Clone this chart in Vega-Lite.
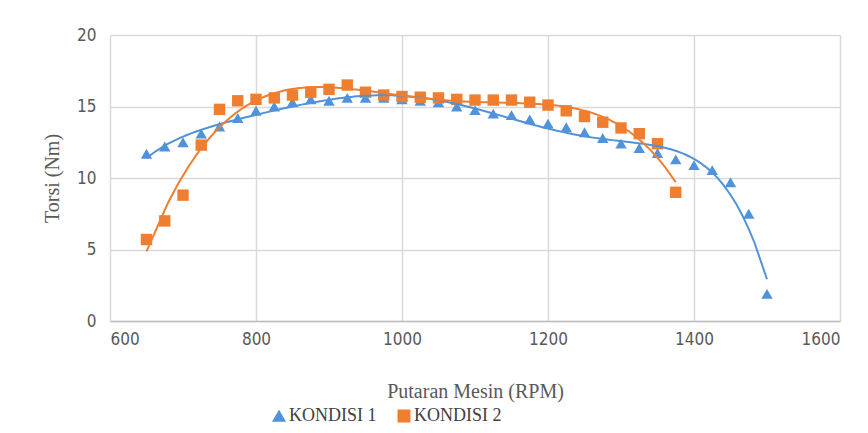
{
  "$schema": "https://vega.github.io/schema/vega-lite/v6.json",
  "width": 730,
  "height": 286,
  "autosize": {"type": "none"},
  "padding": {"left": 110, "top": 35, "right": 28, "bottom": 112},
  "background": "white",
  "data": {
    "values": [
      {"rpm": 650, "torsi": 11.7, "kondisi": "KONDISI 1"},
      {"rpm": 675, "torsi": 12.2, "kondisi": "KONDISI 1"},
      {"rpm": 700, "torsi": 12.5, "kondisi": "KONDISI 1"},
      {"rpm": 725, "torsi": 13.1, "kondisi": "KONDISI 1"},
      {"rpm": 750, "torsi": 13.6, "kondisi": "KONDISI 1"},
      {"rpm": 775, "torsi": 14.2, "kondisi": "KONDISI 1"},
      {"rpm": 800, "torsi": 14.7, "kondisi": "KONDISI 1"},
      {"rpm": 825, "torsi": 15.0, "kondisi": "KONDISI 1"},
      {"rpm": 850, "torsi": 15.3, "kondisi": "KONDISI 1"},
      {"rpm": 875, "torsi": 15.5, "kondisi": "KONDISI 1"},
      {"rpm": 900, "torsi": 15.4, "kondisi": "KONDISI 1"},
      {"rpm": 925, "torsi": 15.6, "kondisi": "KONDISI 1"},
      {"rpm": 950, "torsi": 15.6, "kondisi": "KONDISI 1"},
      {"rpm": 975, "torsi": 15.6, "kondisi": "KONDISI 1"},
      {"rpm": 1000, "torsi": 15.5, "kondisi": "KONDISI 1"},
      {"rpm": 1025, "torsi": 15.4, "kondisi": "KONDISI 1"},
      {"rpm": 1050, "torsi": 15.3, "kondisi": "KONDISI 1"},
      {"rpm": 1075, "torsi": 15.0, "kondisi": "KONDISI 1"},
      {"rpm": 1100, "torsi": 14.75, "kondisi": "KONDISI 1"},
      {"rpm": 1125, "torsi": 14.5, "kondisi": "KONDISI 1"},
      {"rpm": 1150, "torsi": 14.4, "kondisi": "KONDISI 1"},
      {"rpm": 1175, "torsi": 14.1, "kondisi": "KONDISI 1"},
      {"rpm": 1200, "torsi": 13.8, "kondisi": "KONDISI 1"},
      {"rpm": 1225, "torsi": 13.55, "kondisi": "KONDISI 1"},
      {"rpm": 1250, "torsi": 13.2, "kondisi": "KONDISI 1"},
      {"rpm": 1275, "torsi": 12.8, "kondisi": "KONDISI 1"},
      {"rpm": 1300, "torsi": 12.4, "kondisi": "KONDISI 1"},
      {"rpm": 1325, "torsi": 12.1, "kondisi": "KONDISI 1"},
      {"rpm": 1350, "torsi": 11.75, "kondisi": "KONDISI 1"},
      {"rpm": 1375, "torsi": 11.3, "kondisi": "KONDISI 1"},
      {"rpm": 1400, "torsi": 10.9, "kondisi": "KONDISI 1"},
      {"rpm": 1425, "torsi": 10.55, "kondisi": "KONDISI 1"},
      {"rpm": 1450, "torsi": 9.7, "kondisi": "KONDISI 1"},
      {"rpm": 1475, "torsi": 7.5, "kondisi": "KONDISI 1"},
      {"rpm": 1500, "torsi": 1.9, "kondisi": "KONDISI 1"},
      {"rpm": 650, "torsi": 5.7, "kondisi": "KONDISI 2"},
      {"rpm": 675, "torsi": 7.0, "kondisi": "KONDISI 2"},
      {"rpm": 700, "torsi": 8.8, "kondisi": "KONDISI 2"},
      {"rpm": 725, "torsi": 12.3, "kondisi": "KONDISI 2"},
      {"rpm": 750, "torsi": 14.8, "kondisi": "KONDISI 2"},
      {"rpm": 775, "torsi": 15.4, "kondisi": "KONDISI 2"},
      {"rpm": 800, "torsi": 15.5, "kondisi": "KONDISI 2"},
      {"rpm": 825, "torsi": 15.6, "kondisi": "KONDISI 2"},
      {"rpm": 850, "torsi": 15.8, "kondisi": "KONDISI 2"},
      {"rpm": 875, "torsi": 16.0, "kondisi": "KONDISI 2"},
      {"rpm": 900, "torsi": 16.2, "kondisi": "KONDISI 2"},
      {"rpm": 925, "torsi": 16.5, "kondisi": "KONDISI 2"},
      {"rpm": 950, "torsi": 16.0, "kondisi": "KONDISI 2"},
      {"rpm": 975, "torsi": 15.8, "kondisi": "KONDISI 2"},
      {"rpm": 1000, "torsi": 15.7, "kondisi": "KONDISI 2"},
      {"rpm": 1025, "torsi": 15.65, "kondisi": "KONDISI 2"},
      {"rpm": 1050, "torsi": 15.6, "kondisi": "KONDISI 2"},
      {"rpm": 1075, "torsi": 15.5, "kondisi": "KONDISI 2"},
      {"rpm": 1100, "torsi": 15.45, "kondisi": "KONDISI 2"},
      {"rpm": 1125, "torsi": 15.45, "kondisi": "KONDISI 2"},
      {"rpm": 1150, "torsi": 15.45, "kondisi": "KONDISI 2"},
      {"rpm": 1175, "torsi": 15.3, "kondisi": "KONDISI 2"},
      {"rpm": 1200, "torsi": 15.1, "kondisi": "KONDISI 2"},
      {"rpm": 1225, "torsi": 14.7, "kondisi": "KONDISI 2"},
      {"rpm": 1250, "torsi": 14.3, "kondisi": "KONDISI 2"},
      {"rpm": 1275, "torsi": 13.9, "kondisi": "KONDISI 2"},
      {"rpm": 1300, "torsi": 13.5, "kondisi": "KONDISI 2"},
      {"rpm": 1325, "torsi": 13.1, "kondisi": "KONDISI 2"},
      {"rpm": 1350, "torsi": 12.4, "kondisi": "KONDISI 2"},
      {"rpm": 1375, "torsi": 9.0, "kondisi": "KONDISI 2"}
    ]
  },
  "encoding": {
    "x": {
      "field": "rpm", "type": "quantitative",
      "scale": {"domain": [600, 1600], "nice": false, "zero": false},
      "axis": {
        "title": "Putaran Mesin (RPM)",
        "values": [600, 800, 1000, 1200, 1400, 1600],
        "format": "d",
        "grid": true, "gridColor": "#D9D9D9", "gridWidth": 1.5,
        "domainColor": "#BFBFBF", "domainWidth": 1.5,
        "ticks": false,
        "labelPadding": 10,
        "labelFont": "Liberation Sans Narrow, DejaVu Sans Condensed, sans-serif",
        "labelFontSize": 17, "labelColor": "#595959",
        "titleFont": "Liberation Serif", "titleFontSize": 20, "titleFontWeight": "normal",
        "titleColor": "#595959", "titlePadding": 34
      }
    },
    "y": {
      "field": "torsi", "type": "quantitative",
      "scale": {"domain": [0, 20], "nice": false},
      "axis": {
        "title": "Torsi (Nm)",
        "values": [0, 5, 10, 15, 20],
        "grid": true, "gridColor": "#D9D9D9", "gridWidth": 1.5,
        "domain": false, "ticks": false,
        "labelPadding": 14,
        "labelFont": "Liberation Sans Narrow, DejaVu Sans Condensed, sans-serif",
        "labelFontSize": 17, "labelColor": "#595959",
        "titleFont": "Liberation Serif", "titleFontSize": 20, "titleFontWeight": "normal",
        "titleColor": "#595959", "titlePadding": 14
      }
    },
    "color": {
      "field": "kondisi", "type": "nominal",
      "scale": {"domain": ["KONDISI 1", "KONDISI 2"], "range": ["#5093DA", "#EF7E2F"]},
      "legend": {
        "title": null, "orient": "none", "direction": "horizontal",
        "legendX": 160, "legendY": 372,
        "labelFont": "Liberation Serif", "labelFontSize": 18, "labelColor": "#404040",
        "symbolSize": 130, "columnPadding": 18, "labelOffset": 1, "symbolOpacity": 1
      }
    }
  },
  "layer": [
    {
      "mark": {"type": "point", "filled": true, "opacity": 1},
      "encoding": {
        "shape": {
          "field": "kondisi", "type": "nominal",
          "scale": {"domain": ["KONDISI 1", "KONDISI 2"], "range": ["triangle-up", "square"]},
          "legend": {
            "title": null, "orient": "none", "direction": "horizontal",
            "legendX": 160, "legendY": 372,
            "labelFont": "Liberation Serif", "labelFontSize": 18, "labelColor": "#404040",
            "symbolSize": 130, "columnPadding": 18, "labelOffset": 1, "symbolOpacity": 1
          }
        },
        "size": {"value": 130}
      }
    },
    {
      "transform": [
        {"regression": "torsi", "on": "rpm", "groupby": ["kondisi"], "method": "poly", "order": 6}
      ],
      "mark": {"type": "line", "strokeWidth": 2}
    }
  ],
  "config": {"view": {"stroke": null}}
}
